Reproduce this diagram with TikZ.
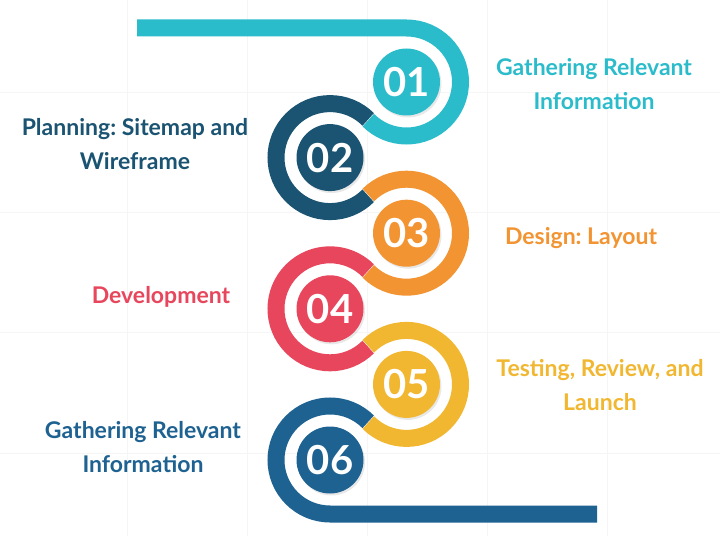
\documentclass[tikz,border=0pt]{standalone}
\definecolor{stepteal}{RGB}{43, 188, 203}
\definecolor{stepnavy}{RGB}{26, 84, 114}
\definecolor{steporange}{RGB}{243, 148, 50}
\definecolor{stepred}{RGB}{232, 70, 92}
\definecolor{stepgold}{RGB}{242, 183, 48}
\definecolor{stepblue}{RGB}{30, 98, 146}
\usepackage{tikz}
\usepackage{xcolor}
\usepackage{fontspec}
\setmainfont{Lato}
\usetikzlibrary{calc,shapes,positioning,shadows}
\newcommand{\ringR}{54}
\frenchspacing

\begin{document}
\begin{tikzpicture}[x=1pt, y=1pt,
                band/.style={line width=17pt},
                num/.style={circle, minimum size=67pt, inner sep=0pt, text=white,
                    font=\bfseries\fontsize{40}{40}\selectfont,
                    drop shadow={opacity=0.18, shadow xshift=1.5pt, shadow yshift=-2pt}},
                lbl/.style={align=center, anchor=base, inner sep=0pt,
                    font=\bfseries\fontsize{23}{34}\selectfont}]
                \useasboundingbox (0,0) rectangle (720,536);
                \fill[white] (0,0) rectangle (720,536);
                \foreach \gx in {127,247,367,487,607}
                    \draw[black!4, line width=1pt] (\gx,0) -- (\gx,536);
                \foreach \gy in {83,203,323,443}
                    \draw[black!4, line width=1pt] (0,\gy) -- (720,\gy);

                \node[num, fill=stepteal] (n1) at (406.5,454) {01};
                \node[num, fill=stepnavy] (n2) at (330,378.4) {02};
                \node[num, fill=steporange] (n3) at (406.5,302.8) {03};
                \node[num, fill=stepred] (n4) at (330,227.2) {04};
                \node[num, fill=stepgold] (n5) at (406.5,151.6) {05};
                \node[num, fill=stepblue] (n6) at (330,76) {06};

                \draw[band, stepteal] (n1.center) ++(-269.5,\ringR) -- ++(269.5,0)
                    arc[start angle=90, end angle=-135, radius=\ringR];
                \draw[band, stepnavy] (n2.center) ++(45:\ringR)
                    arc[start angle=45, end angle=315, radius=\ringR];
                \draw[band, steporange] (n3.center) ++(135:\ringR)
                    arc[start angle=135, end angle=-135, radius=\ringR];
                \draw[band, stepred] (n4.center) ++(45:\ringR)
                    arc[start angle=45, end angle=315, radius=\ringR];
                \draw[band, stepgold] (n5.center) ++(135:\ringR)
                    arc[start angle=135, end angle=-135, radius=\ringR];
                \draw[band, stepblue] (n6.center) ++(45:\ringR)
                    arc[start angle=45, end angle=270, radius=\ringR] -- ++(267,0);

                \node[lbl, text=stepteal] (t1) at (594,426) {Gathering Relevant\\Information};
                \node[lbl, text=stepnavy] (t2) at (135,366) {Planning: Sitemap and\\Wireframe};
                \node[lbl, text=steporange] (t3) at (581,291) {Design: Layout};
                \node[lbl, text=stepred] (t4) at (161,232) {Development};
                \node[lbl, text=stepgold] (t5) at (600,126) {Testing, Review, and\\Launch};
                \node[lbl, text=stepblue] (t6) at (143,64) {Gathering Relevant\\Information};
            \end{tikzpicture}
\end{document}
